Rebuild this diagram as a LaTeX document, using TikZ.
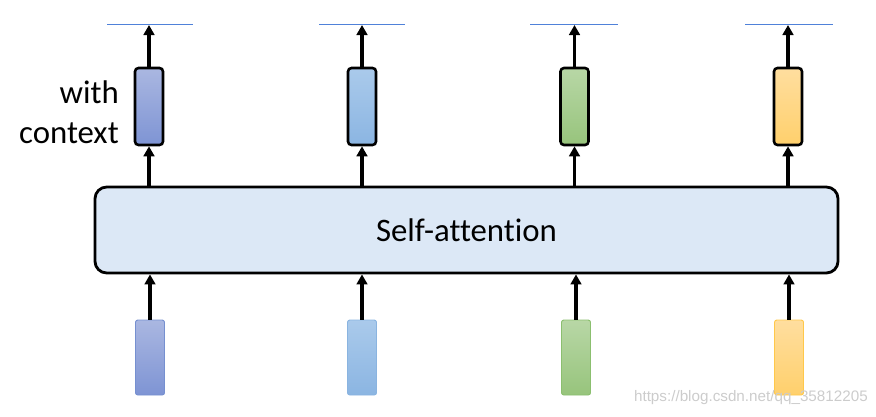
\documentclass[tikz,border=0pt]{standalone}
\usepackage{fontspec}
\setmainfont[Ligatures=NoCommon]{Carlito}
\newfontfamily\wmfont{Liberation Sans}
\usetikzlibrary{arrows.meta}

\definecolor{vecAtop}{HTML}{AAB7E1}
\definecolor{vecAbot}{HTML}{7E94D4}
\definecolor{vecAline}{HTML}{7690D0}
\definecolor{vecBtop}{HTML}{AACAEB}
\definecolor{vecBbot}{HTML}{8BB5E2}
\definecolor{vecBline}{HTML}{8AB4E0}
\definecolor{vecCtop}{HTML}{B8D7A6}
\definecolor{vecCbot}{HTML}{97C47C}
\definecolor{vecCline}{HTML}{8BBF6F}
\definecolor{vecDtop}{HTML}{FFDE9F}
\definecolor{vecDbot}{HTML}{FFD06C}
\definecolor{vecDline}{HTML}{FFC84A}
\definecolor{attnfill}{HTML}{DCE8F6}
\definecolor{topline}{HTML}{4F81D9}

\tikzset{
  invec/.style={rounded corners=2pt, minimum width=0.87cm, minimum height=2.25cm, line width=0.8pt, inner sep=0pt},
  outvec/.style={rounded corners=3pt, minimum width=0.84cm, minimum height=2.31cm, draw=black, line width=2.2pt, inner sep=0pt},
  attnbox/.style={rounded corners=10pt, minimum width=22.29cm, minimum height=2.58cm, draw=black, line width=2.4pt, fill=attnfill},
  uparrow/.style={line width=2.6pt, -{Triangle[length=3mm,width=3.2mm]}},
  cutline/.style={topline, line width=0.8pt},
  bigtext/.style={font=\fontsize{28}{34}\selectfont}
}

\begin{document}
\begin{tikzpicture}[x=0.03cm,y=-0.03cm]
  \useasboundingbox (0,0) rectangle (876,416);

  % Self-attention
  \node[attnbox, bigtext] (attn) at (466.5,230) {Self-attention};

  % Entradas
  \node[invec, draw=vecAline, top color=vecAtop, bottom color=vecAbot] (in1) at (150,357.5) {};
  \node[invec, draw=vecBline, top color=vecBtop, bottom color=vecBbot] (in2) at (362,357.5) {};
  \node[invec, draw=vecCline, top color=vecCtop, bottom color=vecCbot] (in3) at (576,357.5) {};
  \node[invec, draw=vecDline, top color=vecDtop, bottom color=vecDbot] (in4) at (789,357.5) {};

  % Salidas
  \node[outvec, top color=vecAtop, bottom color=vecAbot] (out1) at (149,106.5) {};
  \node[outvec, top color=vecBtop, bottom color=vecBbot] (out2) at (362,106.5) {};
  \node[outvec, top color=vecCtop, bottom color=vecCbot] (out3) at (574.5,106.5) {};
  \node[outvec, top color=vecDtop, bottom color=vecDbot] (out4) at (788,106.5) {};

  % Lineas de arriba
  \coordinate (top1) at (149,25);
  \coordinate (top2) at (362,25);
  \coordinate (top3) at (574.5,25);
  \coordinate (top4) at (788,25);
  \draw[cutline] (107,24) -- (193,24);
  \draw[cutline] (319,24) -- (405,24);
  \draw[cutline] (530,24) -- (618,24);
  \draw[cutline] (745,24) -- (833,24);

  % Flechas
  \draw[uparrow] (in1.north) -- (in1.north |- attn.south);
  \draw[uparrow] (in2.north) -- (in2.north |- attn.south);
  \draw[uparrow] (in3.north) -- (in3.north |- attn.south);
  \draw[uparrow] (in4.north) -- (in4.north |- attn.south);
  \draw[uparrow] (out1.south |- attn.north) -- (out1.south);
  \draw[uparrow] (out2.south |- attn.north) -- (out2.south);
  \draw[uparrow] (out3.south |- attn.north) -- (out3.south);
  \draw[uparrow] (out4.south |- attn.north) -- (out4.south);
  \draw[uparrow] (out1.north) -- (top1);
  \draw[uparrow] (out2.north) -- (top2);
  \draw[uparrow] (out3.north) -- (top3);
  \draw[uparrow] (out4.north) -- (top4);

  % Texto
  \node[anchor=east, align=right, inner sep=0pt, bigtext] (ctx) at (119,112)
    {with\\context};

  % Marca de agua
  \node[anchor=east, inner sep=0pt, text=gray!40] (wm) at (868,398)
    {\wmfont\fontsize{13}{15}\selectfont https://blog.csdn.net/qq\_35812205};
\end{tikzpicture}
\end{document}
